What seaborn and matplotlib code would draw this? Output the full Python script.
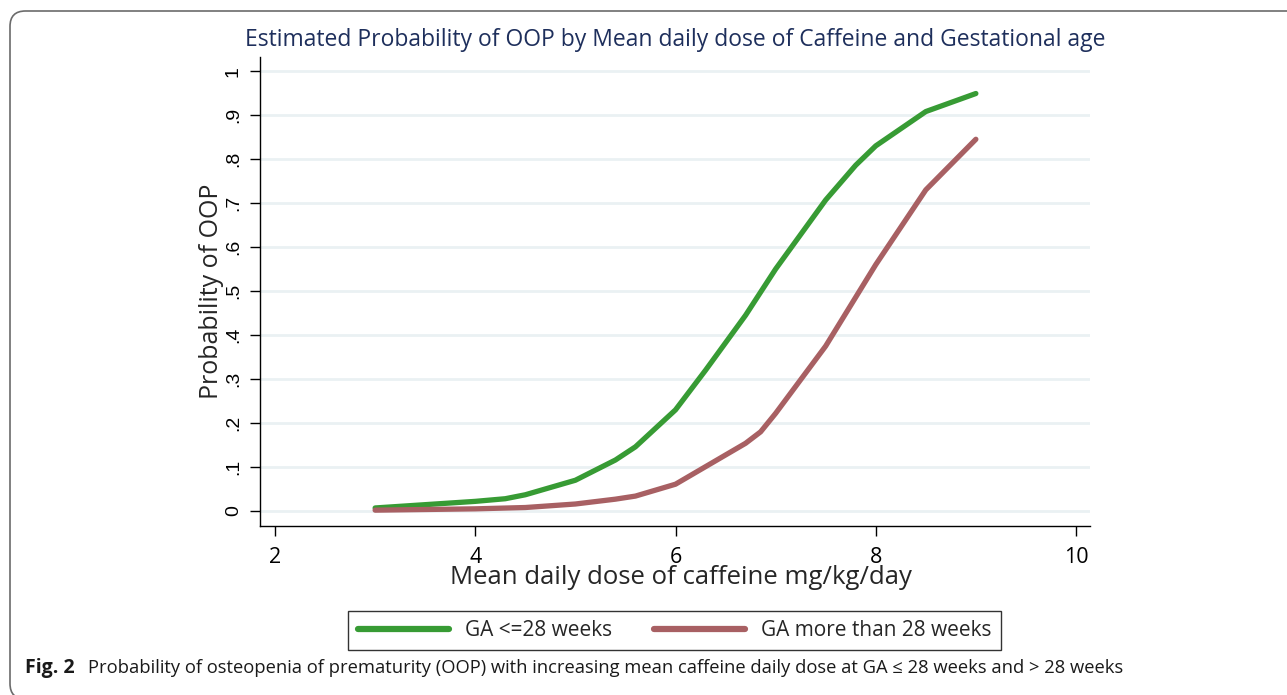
import numpy as np
import pandas as pd
import matplotlib
matplotlib.use("Agg")
import matplotlib.pyplot as plt
import seaborn as sns
from matplotlib.patches import FancyBboxPatch

# ---- data ----
green_x = [3, 4, 4.3, 4.5, 5, 5.4, 5.6, 6, 6.3, 6.7, 7, 7.5, 7.8, 8, 8.5, 9]
green_y = [0.007, 0.022, 0.028, 0.037, 0.07, 0.116, 0.146, 0.23, 0.32, 0.445,
           0.55, 0.707, 0.786, 0.83, 0.908, 0.949]
red_x = [3, 4, 4.5, 5, 5.4, 5.6, 6, 6.7, 6.85, 7, 7.5, 8, 8.5, 9]
red_y = [0.002, 0.005, 0.008, 0.016, 0.027, 0.034, 0.061, 0.154, 0.18, 0.222,
         0.375, 0.56, 0.73, 0.845]
series_names = ["GA <=28 weeks", "GA more than 28 weeks"]
x_ticks = [2, 4, 6, 8, 10]
y_ticks = [0, 0.1, 0.2, 0.3, 0.4, 0.5, 0.6, 0.7, 0.8, 0.9, 1.0]
y_tick_labels = ["0", ".1", ".2", ".3", ".4", ".5", ".6", ".7", ".8", ".9", "1"]
title = "Estimated Probability of OOP by Mean daily dose of Caffeine and Gestational age"
xlabel = "Mean daily dose of caffeine mg/kg/day"
ylabel = "Probability of OOP"
caption_bold = "Fig. 2"
caption = ("Probability of osteopenia of prematurity (OOP) with increasing mean caffeine "
           "daily dose at GA \u2264 28 weeks and > 28 weeks")

df = pd.concat([
    pd.DataFrame({"x": green_x, "y": green_y, "group": series_names[0]}),
    pd.DataFrame({"x": red_x, "y": red_y, "group": series_names[1]}),
], ignore_index=True)

sns.set_theme(style="white")
plt.rcParams["font.family"] = ["Open Sans", "DejaVu Sans"]

W, H = 1287, 695
fig = plt.figure(figsize=(W / 100, H / 100), dpi=100)
fig.patch.set_facecolor("white")

# outer rounded frame
x0, y0 = 10 / W, -4 / H
frame = FancyBboxPatch((x0, y0), 1.05 - x0, (1 - 11 / H) - y0,
                       boxstyle="round,pad=0,rounding_size=0.012",
                       transform=fig.transFigure, facecolor="none",
                       edgecolor="#6b6b6b", linewidth=1.2, mutation_aspect=W / H)
fig.patches.append(frame)

ax = fig.add_axes([260 / W, 1 - 526 / H, (1090 - 260) / W, (526 - 57) / H])
palette = {series_names[0]: "#379b34", series_names[1]: "#a86063"}
sns.lineplot(data=df, x="x", y="y", hue="group", palette=palette, sort=False,
             estimator=None, linewidth=3.8, ax=ax, legend=True)

ax.set_xlim(1.85, 10.14)
ax.set_ylim(-0.034, 1.032)
ax.set_xticks(x_ticks)
ax.set_xticklabels([str(t) for t in x_ticks], fontsize=15.5)
ax.set_yticks(y_ticks)
ax.set_yticklabels(y_tick_labels, fontsize=14, rotation=90, va="center",
                   family=["Liberation Sans", "DejaVu Sans"])
ax.yaxis.grid(True, color="#eaf1f3", linewidth=2.0)
ax.xaxis.grid(False)
ax.set_axisbelow(True)
for s in ["top", "right"]:
    ax.spines[s].set_visible(False)
for s in ["left", "bottom"]:
    ax.spines[s].set_color("black")
    ax.spines[s].set_linewidth(1.0)
ax.tick_params(axis="both", which="major", direction="out", length=7, width=1,
               color="black", labelcolor="black", left=True, bottom=True)
ax.tick_params(axis="x", pad=8)
ax.tick_params(axis="y", pad=6)
ax.set_xlabel(xlabel, fontsize=18.5)
ax.xaxis.set_label_coords((681 - 260) / 830, (526 - 578) / 469)
ax.xaxis.label.set_va("center")
ax.set_ylabel(ylabel, fontsize=18, labelpad=1)
ax.set_title(title, fontsize=16.5, color="#1e2f5c", pad=8)

handles, labels = ax.get_legend_handles_labels()
ax.get_legend().remove()
leg = fig.legend(handles, labels, loc="center", bbox_to_anchor=(674.5 / W, 1 - 630.5 / H),
                 ncol=2, frameon=True, fontsize=15, handlelength=4.4, columnspacing=2.0,
                 handletextpad=0.75, borderpad=0.45, fancybox=False)
leg.get_frame().set_edgecolor("black")
leg.get_frame().set_linewidth(1.0)
for h in leg.get_lines():
    h.set_linewidth(4.5)

fig.text(25 / W, 1 - 668 / H, caption_bold, fontsize=14, fontweight="bold",
         va="center", ha="left", color="#1a1a1a")
fig.text(88 / W, 1 - 668 / H, caption, fontsize=13.2, va="center", ha="left",
         color="#1a1a1a")

fig.savefig("out.png", dpi=100, facecolor="white")
